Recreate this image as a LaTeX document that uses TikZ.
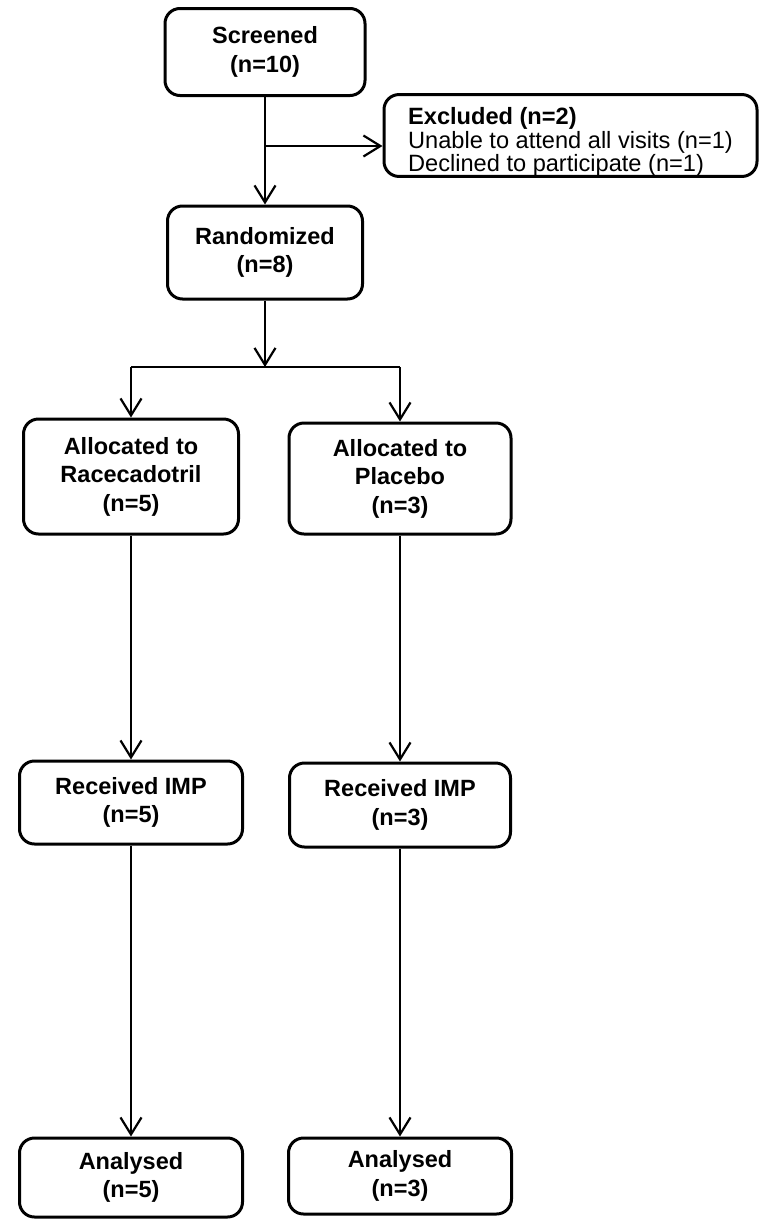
\documentclass[tikz,border=0pt]{standalone}
\usepackage{fontspec}
\setmainfont{Liberation Sans}
\usetikzlibrary{arrows.meta}
\definecolor{ink}{HTML}{000000}
\tikzset{
    flowbox/.style={
        draw=ink,
        fill=white,
        line width=3pt,
        rounded corners=15pt,
        align=center,
        inner sep=0pt,
        font=\fontsize{23.5}{28.5}\selectfont\bfseries,
        text=ink
    },
    excludebox/.style={
        draw=ink,
        fill=white,
        line width=3pt,
        rounded corners=15pt,
        align=left,
        inner sep=0pt,
        font=\fontsize{23.6}{23.5}\selectfont,
        text=ink
    },
    flowline/.style={
        draw=ink,
        line width=2.2pt
    },
    flowarrow/.style={
        -{Straight Barb[length=17pt,width=21pt,line width=2.2pt]},
        draw=ink,
        line width=2.2pt
    }
}
\begin{document}
\begin{tikzpicture}[x=1pt,y=-1pt]
    \useasboundingbox (0,0) rectangle (767,1221);

    % Enrolment
    \node[flowbox, minimum width=200pt, minimum height=87pt] (screened) at (265,52) {Screened\\(n=10)};
    \node[excludebox, minimum width=373pt, minimum height=79pt] (excluded) at (570.5,135.5)
        {\rule{0pt}{30pt}\textbf{Excluded (n=2)}\\Unable to attend all visits (n=1)\\Declined to participate (n=1)};
    \node[flowbox, minimum width=195pt, minimum height=93pt] (randomized) at (265,252.5) {Randomized\\(n=8)};

    % Allocation
    \node[flowbox, minimum width=215pt, minimum height=115pt] (allocL) at (131,476.5) {Allocated to\\Racecadotril\\(n=5)};
    \node[flowbox, minimum width=222pt, minimum height=111pt] (allocR) at (400,478.5) {Allocated to\\Placebo\\(n=3)};

    % Treatment
    \node[flowbox, minimum width=223pt, minimum height=83pt] (recvL) at (131,802.5) {Received IMP\\(n=5)};
    \node[flowbox, minimum width=221pt, minimum height=84pt] (recvR) at (400,805) {Received IMP\\(n=3)};

    % Analysis
    \node[flowbox, minimum width=223pt, minimum height=79pt] (anaL) at (131,1177.5) {Analysed\\(n=5)};
    \node[flowbox, minimum width=223pt, minimum height=76pt] (anaR) at (400,1176) {Analysed\\(n=3)};

    % Connectors
    \coordinate (branch) at (265,146);
    \coordinate (split) at (265,367);
    \draw[flowarrow] (screened) -- (randomized);
    \draw[flowarrow] (branch) -- (branch -| excluded.west);
    \draw[flowarrow] (randomized) -- (split);
    \draw[flowline] (split -| allocL) -- (split -| allocR);
    \draw[flowarrow] (split -| allocL) -- (allocL);
    \draw[flowarrow] (split -| allocR) -- (allocR);
    \draw[flowarrow] (allocL) -- (recvL);
    \draw[flowarrow] (allocR) -- (recvR);
    \draw[flowarrow] (recvL) -- (anaL);
    \draw[flowarrow] (recvR) -- (anaR);

\end{tikzpicture}
\end{document}
